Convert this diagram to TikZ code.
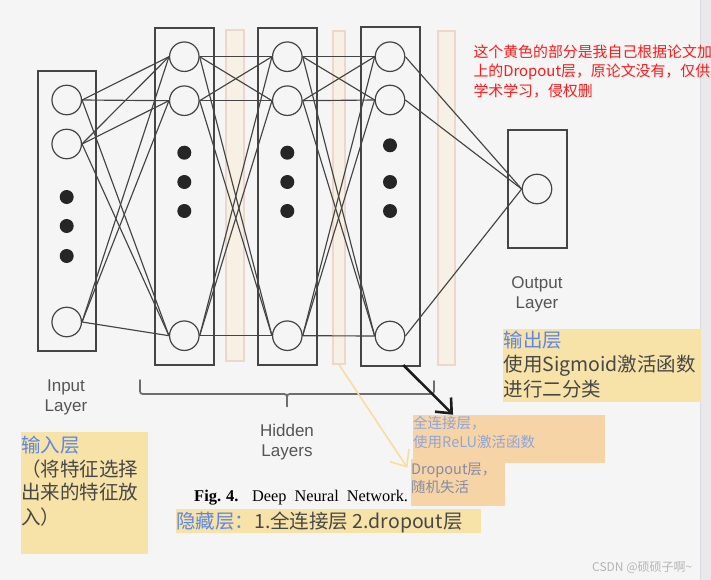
\documentclass[tikz,border=0pt]{standalone}
\usepackage{fontspec}
\setmainfont{Liberation Serif}
\newfontfamily\lsans{Liberation Sans}
\newfontfamily\cjk{Noto Sans CJK SC}
\usetikzlibrary{calc}
\definecolor{bgc}{HTML}{F5F5F5}
\definecolor{stripc}{HTML}{E9E9EB}
\definecolor{stripline}{HTML}{DADADA}
\definecolor{linec}{HTML}{444444}
\definecolor{boxc}{HTML}{454545}
\definecolor{barfill}{HTML}{F6F1E4}
\definecolor{barline}{HTML}{EDD7CA}
\definecolor{annoy}{HTML}{F7E2A8}
\definecolor{annoo}{HTML}{F7D4A6}
\definecolor{headblue}{HTML}{5B87E6}
\definecolor{anntext}{HTML}{474747}
\definecolor{lblue}{HTML}{8EA5DA}
\definecolor{gblue}{HTML}{858BA6}
\definecolor{labelc}{HTML}{555555}
\definecolor{bracec}{HTML}{6E6E6E}
\definecolor{arrowy}{HTML}{F8DE9C}
\definecolor{arrowk}{HTML}{1C1C1C}
\definecolor{redc}{HTML}{FF1A1A}
\definecolor{wmc}{HTML}{B5B5B5}
\tikzset{
  layerbox/.style={draw=boxc, line width=1.3pt, rectangle, inner sep=0pt},
  dropbar/.style={draw=barline, fill=barfill, line width=1.4pt, rectangle, inner sep=0pt},
  neuron/.style={circle, draw=linec, line width=1.2pt, fill=bgc, minimum size=29.5pt, inner sep=0pt},
  dotn/.style={circle, fill=black!85, minimum size=14pt, inner sep=0pt},
  conn/.style={draw=linec, line width=1.15pt},
  lbl/.style={font=\lsans\fontsize{17}{20}\selectfont, text=labelc, inner sep=0pt, anchor=base},
  anno/.style={font=\cjk\fontsize{19.5}{23}\selectfont, text=anntext, inner sep=0pt, anchor=base west},
  annosmall/.style={font=\cjk\fontsize{14.5}{18}\selectfont, inner sep=0pt, anchor=base west},
  rednote/.style={inner sep=0pt, anchor=base west, text=redc, font=\cjk\fontsize{14.9}{19}\selectfont},
}
\begin{document}
\begin{tikzpicture}[x=1pt,y=-1pt]
\useasboundingbox (0,0) rectangle (711,580);
\fill[bgc] (0,0) rectangle (711,580);
\fill[stripc] (700.7,0) rectangle (711,580);
\draw[stripline, line width=0.8pt] (700.7,0) -- (700.7,580);

% dropout bars
\node[dropbar, minimum width=18pt, minimum height=331pt] (D1) at (235,195.5) {};
\node[dropbar, minimum width=12pt, minimum height=333pt] (D2) at (339,197.5) {};
\node[dropbar, minimum width=17pt, minimum height=334pt] (D3) at (446.5,198) {};

% layer boxes
\node[layerbox, minimum width=58pt, minimum height=280pt] (IN) at (67,211) {};
\node[layerbox, minimum width=59pt, minimum height=337pt] (H1) at (184.5,196.5) {};
\node[layerbox, minimum width=59pt, minimum height=337pt] (H2) at (287.5,196.5) {};
\node[layerbox, minimum width=59pt, minimum height=339pt] (H3) at (390.5,196.5) {};
\node[layerbox, minimum width=59pt, minimum height=118pt] (OUT) at (537.5,189) {};

% neurons
\node[neuron] (i1) at (66.7,100) {};
\node[neuron] (i2) at (66.7,144) {};
\node[neuron] (i3) at (66.7,322) {};
\node[neuron] (a1) at (184.3,56.7) {};
\node[neuron] (a2) at (184.3,100.7) {};
\node[neuron] (a3) at (184.3,335.7) {};
\node[neuron] (b1) at (287.3,56.7) {};
\node[neuron] (b2) at (287.3,100.7) {};
\node[neuron] (b3) at (287.3,335.7) {};
\node[neuron] (c1) at (390,56.7) {};
\node[neuron] (c2) at (390,100) {};
\node[neuron] (c3) at (390,336) {};
\node[neuron] (o1) at (537,189) {};

% connections
\foreach \s in {i1,i2,i3}{\foreach \t in {a1,a2,a3}{\draw[conn] (\s.east) -- (\t.west);}}
\foreach \s in {a1,a2,a3}{\foreach \t in {b1,b2,b3}{\draw[conn] (\s.east) -- (\t.west);}}
\foreach \s in {b1,b2,b3}{\foreach \t in {c1,c2,c3}{\draw[conn] (\s.east) -- (\t.west);}}
\foreach \s in {c1,c2,c3}{\draw[conn] (\s.east) -- (o1.west);}

% dots
\node[dotn] (id1) at (66.7,197) {};
\node[dotn] (id2) at (66.7,226) {};
\node[dotn] (id3) at (66.7,256) {};
\node[dotn] (ad1) at (184.3,152.7) {};
\node[dotn] (ad2) at (184.3,182) {};
\node[dotn] (ad3) at (184.3,211) {};
\node[dotn] (bd1) at (287.3,152.7) {};
\node[dotn] (bd2) at (287.3,182) {};
\node[dotn] (bd3) at (287.3,211) {};
\node[dotn] (cd1) at (390,145.3) {};
\node[dotn] (cd2) at (390,182) {};
\node[dotn] (cd3) at (390,211) {};

% layer labels
\node[lbl] (inl1) at (66,391) {Input};
\node[lbl] (inl2) at (66,411.5) {Layer};
\node[lbl] (outl1) at (537,288.7) {Output};
\node[lbl] (outl2) at (537,308.7) {Layer};
\node[lbl] (hl1) at (287,436) {Hidden};
\node[lbl] (hl2) at (287,456.5) {Layers};

% brace
\draw[bracec, line width=1.8pt, line cap=round]
  (140,380) -- (140,388) .. controls (140,394) .. (146,394) -- (281,394)
  .. controls (287,394) .. (287,400) -- (287,406.5);
\draw[bracec, line width=1.8pt, line cap=round]
  (287,400) .. controls (287,394) .. (293,394) -- (428,394)
  .. controls (434,394) .. (434,388) -- (434,381);

% caption
\node[inner sep=0pt, anchor=base west, font=\bfseries\fontsize{16.5}{19}\selectfont] (figa) at (194,501.7) {Fig.\hspace{5pt}4.};
\node[inner sep=0pt, anchor=base west, font=\fontsize{16.3}{19}\selectfont] (figb) at (252,501.7) {Deep\hspace{8pt}Neural\hspace{8pt}Network.};

% red note
\node[rednote] (r1) at (473.3,57.3) {这个黄色的部分是我自己根据论文加};
\node[rednote] (r2) at (473.3,76.6) {上的Dropout层，原论文没有，仅供};
\node[rednote] (r3) at (473.3,96.3) {学术学习，侵权删};

% output annotation
\fill[annoy] (503.3,329.3) rectangle (701,401.7);
\node[anno, text=headblue] (o_h) at (503.3,347.4) {输出层};
\node[anno] (o_l1) at (503.3,371.4) {使用Sigmoid激活函数};
\node[anno] (o_l2) at (503.3,396.4) {进行二分类};

% input annotation
\fill[annoy] (21,432.3) rectangle (147.7,554);
\node[anno, text=headblue] (i_h) at (21,452.4) {输入层};
\node[anno] (i_l1) at (21,476.4) {（将特征选择};
\node[anno] (i_l2) at (21,499.4) {出来的特征放};
\node[anno] (i_l3) at (21,524.4) {入）};

% hidden annotation
\fill[annoy] (176,509) rectangle (480.7,532.7);
\node[anno] (h_t) at (176,528.4) {\textcolor{headblue}{隐藏层：}1.全连接层 2.dropout层};

% orange notes
\fill[annoo] (412.7,415) rectangle (605,462.7);
\fill[annoo] (411,459.3) rectangle (505,506);
\node[annosmall, text=lblue] (f1) at (413,428.5) {全连接层，};
\node[annosmall, text=lblue] (f2) at (413,447.2) {使用ReLU激活函数};
\node[annosmall, text=gblue] (g1) at (411,474.5) {Dropout层，};
\node[annosmall, text=gblue] (g2) at (411,492.2) {随机失活};

% arrows
\coordinate (ks) at (403.3,365);
\coordinate (kt) at (451.7,413.3);
\coordinate (ka1) at (435,411.7);
\coordinate (ka2) at (451,397.5);
\draw[arrowk, line width=2.6pt] (ks) -- (kt);
\draw[arrowk, line width=2.6pt, line join=miter] (ka1) -- (kt) -- (ka2);

\coordinate (yt) at (406.7,466.7);
\coordinate (ya1) at (390,461.7);
\coordinate (ya2) at (409,449);
\draw[arrowy, line width=1.6pt] (D2.south) -- (yt);
\draw[arrowy, line width=1.6pt] (ya1) -- (yt) -- (ya2);

% watermark
\node[inner sep=0pt, anchor=base west, text=wmc, font=\cjk\fontsize{12}{14}\selectfont] (wm) at (592,571.5) {CSDN @硕硕子啊\textasciitilde};
\end{tikzpicture}
\end{document}
